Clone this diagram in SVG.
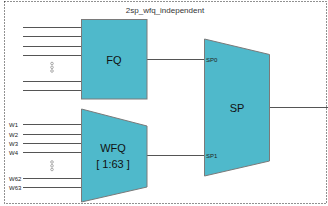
<svg xmlns="http://www.w3.org/2000/svg" width="328" height="206" viewBox="0 0 328 206">
<style>
.frame{fill:none;stroke:#222;stroke-width:1;stroke-dasharray:1,2}
.blk{fill:#4FB9CB;stroke:#7a7a7a;stroke-width:1}
.ln{stroke:#555;stroke-width:1;fill:none}
.dot{fill:none;stroke:#888;stroke-width:0.7}
.big{font-family:"Liberation Sans",Arial,sans-serif;font-size:11px;fill:#111;text-anchor:middle}
.sm{font-family:"Liberation Sans",Arial,sans-serif;font-size:6px;fill:#222}
.ttl{font-family:"Liberation Sans",Arial,sans-serif;font-size:8px;fill:#333;text-anchor:middle}
</style>
<rect class="frame" x="4.5" y="1.5" width="322" height="202"/>
<text class="ttl" x="165" y="13">2sp_wfq_independent</text>
<g id="connectors">
<line class="ln" x1="23" y1="27.5" x2="82" y2="27.5"/>
<line class="ln" x1="23" y1="36.5" x2="82" y2="36.5"/>
<line class="ln" x1="23" y1="46.5" x2="82" y2="46.5"/>
<line class="ln" x1="23" y1="55.5" x2="82" y2="55.5"/>
<line class="ln" x1="23" y1="81.5" x2="82" y2="81.5"/>
<line class="ln" x1="23" y1="90.5" x2="82" y2="90.5"/>
<line class="ln" x1="23" y1="124.5" x2="82" y2="124.5"/>
<line class="ln" x1="23" y1="134.5" x2="82" y2="134.5"/>
<line class="ln" x1="23" y1="143.5" x2="82" y2="143.5"/>
<line class="ln" x1="23" y1="152.5" x2="82" y2="152.5"/>
<line class="ln" x1="23" y1="178.5" x2="82" y2="178.5"/>
<line class="ln" x1="23" y1="187.5" x2="82" y2="187.5"/>
<line class="ln" x1="147" y1="59.5" x2="205" y2="59.5"/>
<line class="ln" x1="147" y1="155.5" x2="205" y2="155.5"/>
<line class="ln" x1="269" y1="107.5" x2="328" y2="107.5"/>
</g>
<g id="dots">
<circle class="dot" cx="52" cy="63.5" r="1.3"/>
<circle class="dot" cx="52" cy="67.3" r="1.3"/>
<circle class="dot" cx="52" cy="71" r="1.3"/>
<circle class="dot" cx="52" cy="162" r="1.3"/>
<circle class="dot" cx="52" cy="165.8" r="1.3"/>
<circle class="dot" cx="52" cy="169.5" r="1.3"/>
</g>
<g id="wlabels">
<text class="sm" x="9" y="126.5">W1</text>
<text class="sm" x="9" y="136.5">W2</text>
<text class="sm" x="9" y="145.5">W3</text>
<text class="sm" x="9" y="154.5">W4</text>
<text class="sm" x="9" y="180.5">W62</text>
<text class="sm" x="9" y="189.5">W63</text>
</g>
<g id="fq">
<rect class="blk" x="81.5" y="19.5" width="65.5" height="79.5"/>
<text class="big" x="114" y="64">FQ</text>
</g>
<g id="wfq">
<polygon class="blk" points="81.5,109 147,126 147,187 81.5,202"/>
<text class="big" x="113" y="152">WFQ</text>
<text class="big" x="113" y="168">[ 1:63 ]</text>
</g>
<g id="sp">
<polygon class="blk" points="204.5,39 269.5,54.5 269.5,161 204.5,176"/>
<text class="big" x="237" y="112">SP</text>
<text class="sm" x="206" y="61.5">SP0</text>
<text class="sm" x="206" y="157.5">SP1</text>
</g>
</svg>
